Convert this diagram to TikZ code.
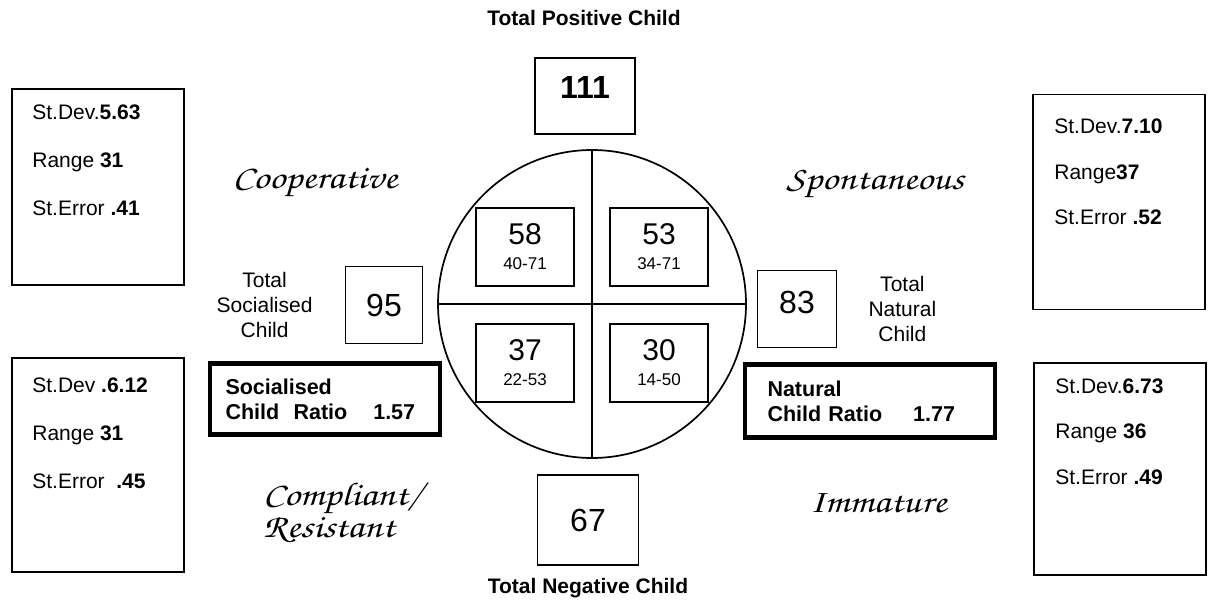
\documentclass[tikz,border=0pt]{standalone}
\usepackage{fontspec}
\setmainfont{Liberation Sans}
\newfontfamily\handfont[FakeStretch=1.2]{TeX Gyre Chorus}
\usetikzlibrary{positioning}

\newcommand{\setsize}[2]{\fontsize{#1}{#2}\selectfont}

\begin{document}
\begin{tikzpicture}[
  x=1pt, y=-1pt,
  box/.style={draw, line width=1.7pt, inner sep=0pt},
  statbox/.style={box, minimum width=172pt},
  stattext/.style={align=left, inner sep=0pt, font=\setsize{21}{#1}},
  numbox/.style={box, font=\setsize{32}{32}},
  quadbox/.style={box, minimum width=98pt, minimum height=78pt,
                  align=center, font=\setsize{17}{25}},
  ratiobox/.style={draw, line width=4.6pt, align=left, inner ysep=0pt,
                   font=\bfseries\setsize{21.5}{25}},
  total/.style={align=center, inner sep=0pt, font=\setsize{21}{25}},
  heading/.style={inner sep=0pt, font=\bfseries\setsize{21}{21}},
  mood/.style={inner sep=0pt, align=left, font=\handfont\setsize{33}{32}},
]
\useasboundingbox (0,0) rectangle (1215,601);

% --- centre circle split into four quadrants ---
\node[draw, circle, line width=1.7pt, minimum size=308pt, inner sep=0pt]
  (circ) at (592,304) {};
\draw[line width=1.7pt] (circ.north) -- (circ.south);
\draw[line width=1.7pt] (circ.west) -- (circ.east);

\node[quadbox] (coop) at (525,247) {{\setsize{30}{25}58}\\40-71};
\node[quadbox] (spon) at (659,247) {{\setsize{30}{25}53}\\34-71};
\node[quadbox] (comp) at (525,363) {{\setsize{30}{25}37}\\22-53};
\node[quadbox] (imm)  at (659,363) {{\setsize{30}{25}30}\\14-50};

% --- totals round the circle ---
\node[heading] (posT) at (584,18) {Total Positive Child};
\node[numbox, minimum width=100pt, minimum height=76pt, text depth=18pt,
      font=\bfseries\setsize{32}{32}] (pos) at (585,96) {111};
\node[numbox, minimum width=101pt, minimum height=90pt] (neg) at (588,520) {67};
\node[heading] (negT) at (588,588) {Total Negative Child};

\node[numbox, minimum width=77pt, minimum height=77pt] (soc) at (384,305) {95};
\node[total, left=32pt of soc] (socT) {Total\\Socialised\\Child};
\node[numbox, minimum width=79pt, minimum height=77pt, text depth=14pt]
  (nat) at (797,309) {83};
\node[total, right=31pt of nat] (natT) {Total\\Natural\\Child};

% --- child ratios ---
\node[ratiobox, minimum width=230pt, minimum height=71pt, text width=199pt,
      inner xsep=15.5pt] (socR) at (325,399)
  {Socialised\\Child\ \ Ratio\hspace{26pt}1.57};
\node[ratiobox, minimum width=250pt, minimum height=73pt, text width=205pt,
      inner xsep=22.5pt] (natR) at (870,401)
  {Natural\\Child Ratio\hspace{31pt}1.77};

% --- quadrant names ---
\node[mood] (coopL) at (315,182) {Cooperative};
\node[mood] (sponL) at (875,184) {Spontaneous};
\node[mood, anchor=west] (compL) at (263,513) {Compliant/\\Resistant};
\node[mood] (immL) at (878,503) {Immature};

% --- statistics boxes ---
\node[statbox, minimum height=196pt] (sdTL) at (98,187) {};
\node[stattext=48, below right=16pt and 21pt of sdTL.north west]
  {St.Dev.\textbf{5.63}\\Range \textbf{31}\\St.Error \textbf{.41}};

\node[statbox, minimum height=214pt] (sdBL) at (98,465) {};
\node[stattext=48, below right=20pt and 21pt of sdBL.north west]
  {St.Dev \textbf{.6.12}\\Range \textbf{31}\\St.Error \ \textbf{.45}};

\node[statbox, minimum height=215pt] (sdTR) at (1119,202) {};
\node[stattext=45.5, below right=25pt and 22pt of sdTR.north west]
  {St.Dev.\textbf{7.10}\\Range\textbf{37}\\St.Error \textbf{.52}};

\node[statbox, minimum height=212pt] (sdBR) at (1120,469) {};
\node[stattext=45.5, below right=16pt and 22pt of sdBR.north west]
  {St.Dev.\textbf{6.73}\\Range \textbf{36}\\St.Error \textbf{.49}};
\end{tikzpicture}
\end{document}
